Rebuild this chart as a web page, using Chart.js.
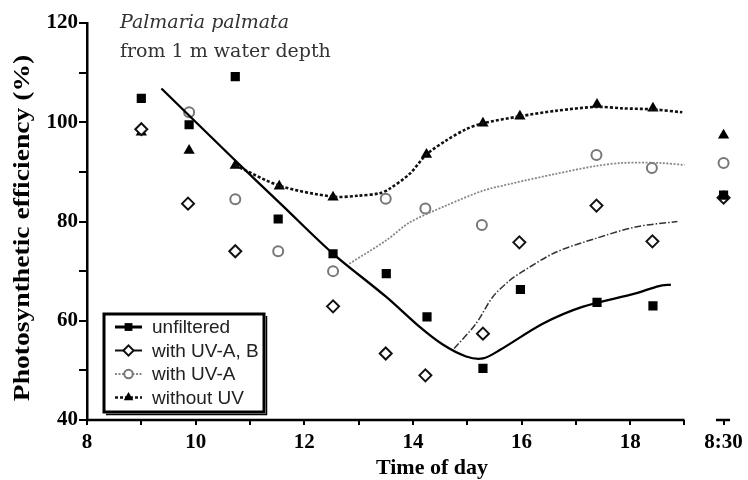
<!DOCTYPE html>
<html>
<head>
<meta charset="utf-8">
<script src="https://cdn.jsdelivr.net/npm/chart.js@4.4.0/dist/chart.umd.min.js"></script>
<style>
  html, body { margin: 0; padding: 0; background: #fff; }
</style>
</head>
<body>
<canvas id="chart" width="748" height="480"></canvas>
<script>
// tick labels
const hourTicks = [8, 10, 12, 14, 16, 18];
const morningX = 19.72;          // next morning, drawn after the axis break
const morningLabel = '8:30';

const seriesNames = ['unfiltered', 'with UV-A, B', 'with UV-A', 'without UV'];

// measured values (time of day, %)
const unfilteredX = [9.0, 9.88, 10.73, 11.52, 12.53, 13.51, 14.26, 15.29, 15.98, 17.39, 18.42, morningX];
const unfilteredY = [104.8, 99.5, 109.2, 80.5, 73.5, 69.5, 60.8, 50.4, 66.3, 63.7, 63.0, 85.3];

const uvabX = [9.0, 9.86, 10.73, 12.53, 13.50, 14.23, 15.29, 15.96, 17.38, 18.41, morningX];
const uvabY = [98.6, 83.6, 74.0, 62.9, 53.4, 49.0, 57.4, 75.8, 83.2, 76.0, 84.8];

const uvaX = [9.88, 10.73, 11.52, 12.53, 13.50, 14.23, 15.27, 17.38, 18.40, morningX];
const uvaY = [102.0, 84.5, 74.0, 70.0, 84.6, 82.6, 79.3, 93.4, 90.8, 91.8];

const noUvX = [9.0, 9.88, 10.73, 11.54, 12.53, 14.25, 15.29, 15.97, 17.39, 18.42, morningX];
const noUvY = [98.0, 94.3, 91.3, 87.1, 84.9, 93.5, 99.8, 101.2, 103.6, 102.8, 97.4];

// fitted curves
const fitUnfilteredX = [9.37, 10.72, 11.6, 12.5, 13.51, 14.12, 14.55, 14.98, 15.29, 15.6, 16.39, 17.12, 18.10, 18.53, 18.75];
const fitUnfilteredY = [106.8, 92.4, 83.2, 73.8, 64.8, 58.8, 55.2, 52.8, 52.4, 54.1, 59.4, 62.8, 65.5, 67.0, 67.3];

const fitUvabX = [14.76, 15.16, 15.47, 15.78, 16.0, 16.63, 17.37, 18.10, 18.87];
const fitUvabY = [54.4, 59.4, 64.8, 68.1, 69.8, 73.8, 76.6, 78.9, 80.0];

const fitUvaX = [12.83, 13.51, 13.94, 14.61, 15.29, 15.84, 16.63, 17.37, 17.86, 18.53, 19.0];
const fitUvaY = [71.5, 76.2, 79.8, 83.2, 86.2, 87.7, 89.6, 91.2, 91.8, 91.8, 91.4];

const fitNoUvX = [10.73, 11.55, 12.53, 13.0, 13.39, 13.57, 13.94, 14.25, 14.61, 14.98, 15.29, 15.97, 16.63, 17.39, 17.86, 18.42, 18.96];
const fitNoUvY = [91.3, 87.2, 85.0, 85.2, 85.7, 86.6, 89.6, 93.5, 96.3, 98.6, 99.8, 101.2, 102.3, 103.1, 102.8, 102.6, 102.0];

function pts(xs, ys) {
  return xs.map((x, i) => ({ x: x, y: ys[i] }));
}

const curveBase = { showLine: true, pointRadius: 0, tension: 0.3, fill: false };

const datasets = [
  Object.assign({ label: 'fit unfiltered', data: pts(fitUnfilteredX, fitUnfilteredY), borderColor: '#000', borderWidth: 2.3 }, curveBase),
  Object.assign({ label: 'fit UV-A,B', data: pts(fitUvabX, fitUvabY), borderColor: '#333', borderWidth: 1.5, borderDash: [7, 2, 1.5, 2] }, curveBase),
  Object.assign({ label: 'fit UV-A', data: pts(fitUvaX, fitUvaY), borderColor: '#888', borderWidth: 1.8, borderDash: [2, 1.5] }, curveBase),
  Object.assign({ label: 'fit no UV', data: pts(fitNoUvX, fitNoUvY), borderColor: '#111', borderWidth: 2.6, borderDash: [3, 2] }, curveBase),
  { label: seriesNames[0], data: pts(unfilteredX, unfilteredY), pointStyle: 'rect', pointRadius: 6.5,
    backgroundColor: '#000', borderColor: '#000', borderWidth: 0 },
  { label: seriesNames[1], data: pts(uvabX, uvabY), pointStyle: 'rectRot', pointRadius: 6,
    backgroundColor: '#fff', borderColor: '#111', borderWidth: 2 },
  { label: seriesNames[2], data: pts(uvaX, uvaY), pointStyle: 'circle', pointRadius: 5,
    backgroundColor: '#fff', borderColor: '#777', borderWidth: 2 },
  { label: seriesNames[3], data: pts(noUvX, noUvY), pointStyle: 'triangle', pointRadius: 6.5,
    backgroundColor: '#000', borderColor: '#000', borderWidth: 0 }
];

// line samples shown in the boxed legend
const legendLines = [
  { color: '#000', width: 3, dash: [] },
  { color: '#111', width: 2, dash: [] },
  { color: '#888', width: 1.8, dash: [2, 1.5] },
  { color: '#111', width: 2.4, dash: [3, 2] }
];

const serif = '"Liberation Serif", "Times New Roman", serif';

const extrasPlugin = {
  id: 'extras',
  afterDraw(chart) {
    const ctx = chart.ctx;
    const xs = chart.scales.x;
    const ys = chart.scales.y;
    const yb = ys.getPixelForValue(40);
    ctx.save();

    // broken x axis
    ctx.strokeStyle = '#000';
    ctx.lineWidth = 2.5;
    ctx.beginPath();
    ctx.moveTo(xs.getPixelForValue(8) - 1, yb);
    ctx.lineTo(xs.getPixelForValue(19), yb);
    ctx.moveTo(xs.getPixelForValue(19.58), yb);
    ctx.lineTo(xs.getPixelForValue(19.84), yb);
    ctx.stroke();

    // axis titles
    ctx.fillStyle = '#000';
    ctx.font = 'bold 22px ' + serif;
    ctx.textAlign = 'center';
    ctx.textBaseline = 'middle';
    ctx.fillText('Time of day', 432, 468);
    ctx.save();
    ctx.translate(23, 228);
    ctx.rotate(-Math.PI / 2);
    ctx.scale(1.2, 1);
    ctx.font = 'bold 23px ' + serif;
    ctx.fillText('Photosynthetic efficiency (%)', 0, 0);
    ctx.restore();

    // species note
    ctx.textAlign = 'left';
    ctx.fillStyle = '#333';
    ctx.font = 'italic 19px "DejaVu Serif", serif';
    ctx.fillText('Palmaria palmata', 120, 23);
    ctx.font = '19px "DejaVu Serif", serif';
    ctx.fillText('from 1 m water depth', 120, 52);

    // boxed legend
    const bx = 104, by = 314, bw = 160, bh = 98;
    ctx.fillStyle = '#fff';
    ctx.fillRect(bx, by, bw, bh);
    ctx.strokeStyle = '#000';
    ctx.lineWidth = 3;
    ctx.setLineDash([]);
    ctx.strokeRect(bx, by, bw, bh);
    ctx.lineWidth = 1.5;
    ctx.beginPath();
    ctx.moveTo(bx + bw + 2.5, by + 2);
    ctx.lineTo(bx + bw + 2.5, by + bh + 2.5);
    ctx.lineTo(bx + 2, by + bh + 2.5);
    ctx.stroke();
    ctx.font = '19px "Liberation Sans", Arial, sans-serif';
    ctx.textBaseline = 'middle';
    seriesNames.forEach((name, i) => {
      const ly = by + 13 + i * 23.5;
      const ds = datasets[4 + i];
      const ln = legendLines[i];
      ctx.strokeStyle = ln.color;
      ctx.lineWidth = ln.width;
      ctx.setLineDash(ln.dash);
      ctx.beginPath();
      ctx.moveTo(bx + 11, ly);
      ctx.lineTo(bx + 38, ly);
      ctx.stroke();
      ctx.setLineDash([]);
      ctx.fillStyle = ds.backgroundColor;
      ctx.strokeStyle = ds.borderColor;
      ctx.lineWidth = ds.borderWidth;
      Chart.helpers.drawPoint(ctx, {
        pointStyle: ds.pointStyle, radius: ds.pointRadius * 0.85, rotation: 0, borderWidth: ds.borderWidth
      }, bx + 24.5, ly);
      ctx.fillStyle = '#222';
      ctx.fillText(name, bx + 48, ly + 1);
    });
    ctx.restore();
  }
};

new Chart(document.getElementById('chart'), {
  type: 'scatter',
  data: { datasets: datasets },
  options: {
    responsive: false,
    animation: false,
    layout: { padding: { top: 23, right: 8, left: 0, bottom: 0 } },
    plugins: { legend: { display: false }, tooltip: { enabled: false } },
    scales: {
      x: {
        type: 'linear',
        min: 8,
        max: 20,
        afterFit: s => { s.height = 60; },
        afterBuildTicks: s => {
          const t = [];
          for (let h = 8; h <= 19; h++) t.push({ value: h });
          t.push({ value: morningX });
          s.ticks = t;
        },
        border: { display: false },
        grid: { drawOnChartArea: false, drawTicks: true, tickLength: 5, color: '#000', lineWidth: 2 },
        ticks: {
          autoSkip: false,
          maxRotation: 0,
          padding: 5,
          color: '#000',
          font: { family: serif, size: 21, weight: 'bold' },
          callback: v => (v === morningX ? morningLabel : (hourTicks.includes(v) ? String(v) : ''))
        }
      },
      y: {
        min: 40,
        max: 120,
        afterFit: s => { s.width = 87; },
        border: { display: true, color: '#000', width: 2.5 },
        grid: { drawOnChartArea: false, drawTicks: true, tickLength: 8, color: '#000', lineWidth: 2 },
        ticks: {
          stepSize: 10,
          padding: 1,
          color: '#000',
          font: { family: serif, size: 21, weight: 'bold' },
          callback: v => (v % 20 === 0 ? String(v) : '')
        }
      }
    }
  },
  plugins: [extrasPlugin]
});
</script>
</body>
</html>
